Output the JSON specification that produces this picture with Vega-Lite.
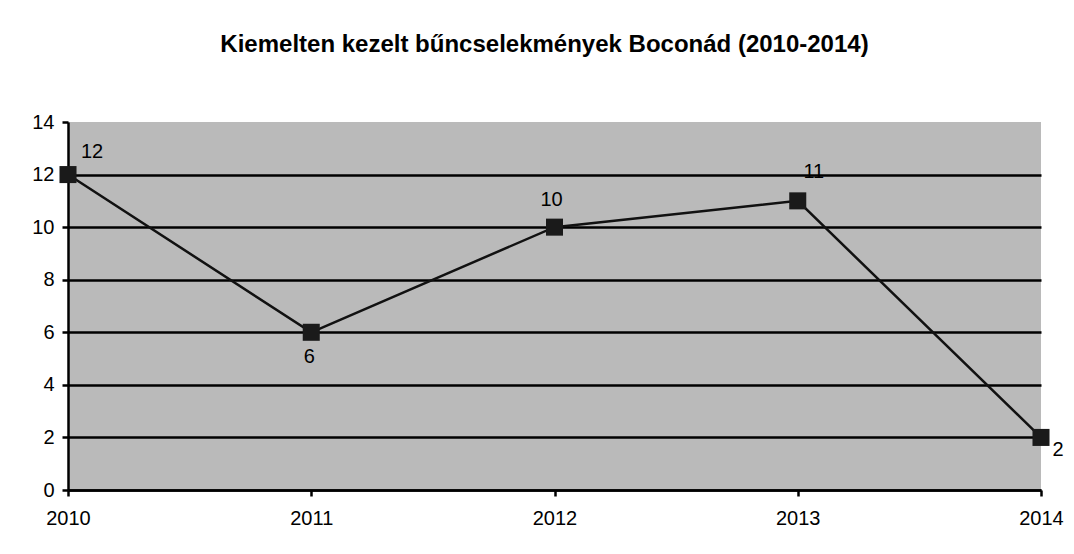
{
  "$schema": "https://vega.github.io/schema/vega-lite/v6.json",
  "width": 973,
  "height": 368,
  "autosize": "none",
  "padding": {"left": 68, "top": 122, "right": 33, "bottom": 64},
  "background": "white",
  "title": {
    "text": "Kiemelten kezelt bűncselekmények Boconád (2010-2014)",
    "font": "Liberation Sans",
    "fontSize": 24,
    "fontWeight": "bold",
    "color": "black",
    "anchor": "middle",
    "offset": 55,
    "dx": -10
  },
  "config": {
    "view": {"stroke": null, "fill": "#bababa"},
    "axis": {
      "labelFont": "Liberation Sans",
      "labelFontSize": 20,
      "labelColor": "black",
      "domainColor": "black",
      "domainWidth": 2.5,
      "tickColor": "black",
      "tickWidth": 2.5,
      "tickSize": 6,
      "labelFlush": false,
      "title": null
    }
  },
  "data": {
    "values": [
      {"year": 2010, "count": 12},
      {"year": 2011, "count": 6},
      {"year": 2012, "count": 10},
      {"year": 2013, "count": 11},
      {"year": 2014, "count": 2}
    ]
  },
  "encoding": {
    "x": {
      "field": "year",
      "type": "quantitative",
      "scale": {"domain": [2010, 2014], "nice": false, "zero": false},
      "axis": {"values": [2010, 2011, 2012, 2013, 2014], "format": "d", "grid": false, "labelPadding": 12}
    },
    "y": {
      "field": "count",
      "type": "quantitative",
      "scale": {"domain": [0, 14], "nice": false},
      "axis": {
        "values": [0, 2, 4, 6, 8, 10, 12, 14],
        "grid": true,
        "gridColor": "black",
        "gridWidth": 2.5,
        "gridOpacity": {"condition": {"test": "datum.value === 14", "value": 0}, "value": 1},
        "labelPadding": 8
      }
    }
  },
  "layer": [
    {"mark": {"type": "line", "color": "#111111", "strokeWidth": 2.5}},
    {"mark": {"type": "square", "size": 290, "color": "#1a1a1a", "opacity": 1, "filled": true}},
    {
      "transform": [{"filter": "datum.year == 2010"}],
      "mark": {"type": "text", "font": "Liberation Sans", "fontSize": 20, "color": "black", "dx": 24, "dy": -23},
      "encoding": {"text": {"field": "count"}}
    },
    {
      "transform": [{"filter": "datum.year == 2011"}],
      "mark": {"type": "text", "font": "Liberation Sans", "fontSize": 20, "color": "black", "dx": -2, "dy": 25},
      "encoding": {"text": {"field": "count"}}
    },
    {
      "transform": [{"filter": "datum.year == 2012"}],
      "mark": {"type": "text", "font": "Liberation Sans", "fontSize": 20, "color": "black", "dx": -3, "dy": -27},
      "encoding": {"text": {"field": "count"}}
    },
    {
      "transform": [{"filter": "datum.year == 2013"}],
      "mark": {"type": "text", "font": "Liberation Sans", "fontSize": 20, "color": "black", "dx": 16, "dy": -29},
      "encoding": {"text": {"field": "count"}}
    },
    {
      "transform": [{"filter": "datum.year == 2014"}],
      "mark": {"type": "text", "font": "Liberation Sans", "fontSize": 20, "color": "black", "dx": 17, "dy": 13},
      "encoding": {"text": {"field": "count"}}
    }
  ]
}
